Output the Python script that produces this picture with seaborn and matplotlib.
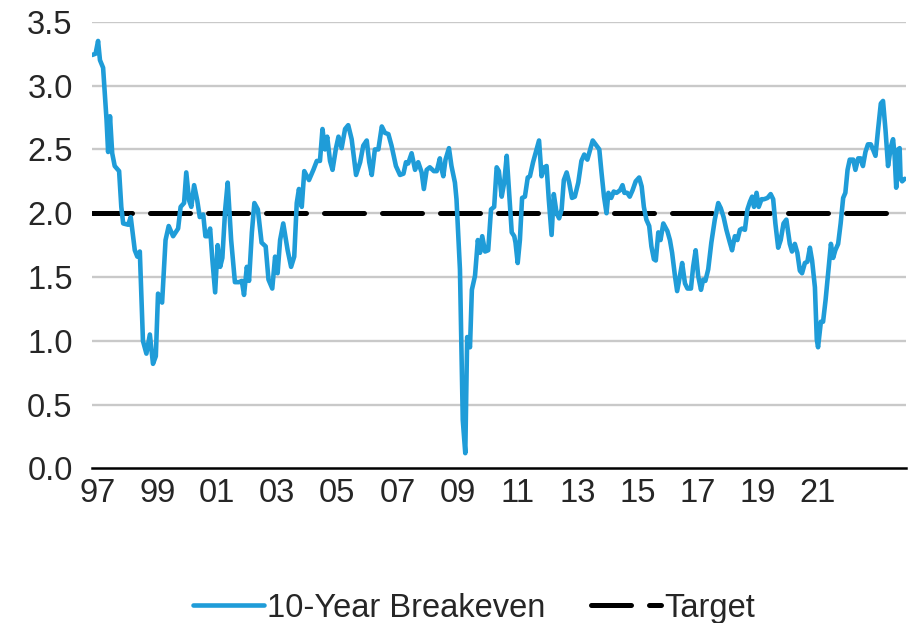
import numpy as np
import pandas as pd
import matplotlib.pyplot as plt
import seaborn as sns

# 10-year breakeven inflation (decimal years)
years = [
    1997.00, 1997.11, 1997.19, 1997.25, 1997.35, 1997.46, 1997.51, 1997.57, 1997.64, 1997.72,
    1997.86, 1997.93, 1997.99, 1998.15, 1998.23, 1998.36, 1998.44, 1998.52, 1998.62, 1998.73,
    1998.84, 1998.94, 1999.03, 1999.10, 1999.23, 1999.34, 1999.44, 1999.58, 1999.74, 1999.82,
    1999.93, 2000.00, 2000.09, 2000.16, 2000.25, 2000.35, 2000.43, 2000.54, 2000.61, 2000.68,
    2000.76, 2000.83, 2000.92, 2001.00, 2001.08, 2001.15, 2001.24, 2001.32, 2001.43, 2001.55,
    2001.68, 2001.77, 2001.84, 2001.93, 2002.00, 2002.09, 2002.17, 2002.28, 2002.40, 2002.53,
    2002.62, 2002.74, 2002.83, 2002.91, 2002.99, 2003.09, 2003.23, 2003.34, 2003.44, 2003.52,
    2003.59, 2003.68, 2003.76, 2003.91, 2004.05, 2004.16, 2004.26, 2004.34, 2004.42, 2004.49,
    2004.58, 2004.66, 2004.77, 2004.85, 2004.95, 2005.06, 2005.16, 2005.27, 2005.41, 2005.54,
    2005.64, 2005.75, 2005.83, 2005.91, 2006.01, 2006.12, 2006.23, 2006.33, 2006.44, 2006.54,
    2006.68, 2006.81, 2006.92, 2007.00, 2007.07, 2007.18, 2007.29, 2007.39, 2007.50, 2007.57,
    2007.66, 2007.76, 2007.89, 2007.98, 2008.08, 2008.11, 2008.19, 2008.26, 2008.37, 2008.45,
    2008.56, 2008.61, 2008.72, 2008.77, 2008.81, 2008.89, 2008.95, 2009.04, 2009.10, 2009.20,
    2009.29, 2009.36, 2009.43, 2009.52, 2009.62, 2009.71, 2009.81, 2009.89, 2009.96, 2010.05,
    2010.13, 2010.21, 2010.28, 2010.37, 2010.45, 2010.49, 2010.56, 2010.63, 2010.70, 2010.79,
    2010.88, 2010.95, 2011.05, 2011.16, 2011.24, 2011.32, 2011.41, 2011.48, 2011.55, 2011.64,
    2011.71, 2011.80, 2011.88, 2011.96, 2012.03, 2012.12, 2012.20, 2012.29, 2012.38, 2012.49,
    2012.59, 2012.68, 2012.78, 2012.86, 2012.95, 2013.07, 2013.16, 2013.23, 2013.31, 2013.39,
    2013.45, 2013.54, 2013.62, 2013.71, 2013.82, 2013.90, 2013.96, 2014.05, 2014.13, 2014.22,
    2014.32, 2014.43, 2014.51, 2014.58, 2014.66, 2014.75, 2014.82, 2014.90, 2014.96, 2015.04,
    2015.11, 2015.20, 2015.33, 2015.41, 2015.48, 2015.57, 2015.64, 2015.73, 2015.80, 2015.89,
    2015.97, 2016.08, 2016.15, 2016.23, 2016.31, 2016.40, 2016.47, 2016.54, 2016.63, 2016.73,
    2016.84, 2016.95, 2017.03, 2017.12, 2017.21, 2017.32, 2017.39, 2017.48, 2017.56, 2017.64,
    2017.71, 2017.80, 2017.88, 2017.96, 2018.03, 2018.09, 2018.17, 2018.24, 2018.33, 2018.41,
    2018.52, 2018.62, 2018.70, 2018.77, 2018.86, 2018.94, 2019.03, 2019.12, 2019.23, 2019.30,
    2019.39, 2019.47, 2019.55, 2019.62, 2019.71, 2019.79, 2019.87, 2019.94, 2020.03, 2020.09,
    2020.13, 2020.22, 2020.29, 2020.37, 2020.45, 2020.54, 2020.61, 2020.68, 2020.77, 2020.85,
    2020.93, 2021.00, 2021.07, 2021.14, 2021.25, 2021.32, 2021.41, 2021.49, 2021.56, 2021.64,
    2021.72, 2021.81, 2021.88, 2021.96, 2022.04, 2022.13, 2022.20, 2022.28, 2022.36, 2022.45,
    2022.52, 2022.57, 2022.62, 2022.68, 2022.73, 2022.76, 2022.81, 2022.89,
]
breakeven = [
    3.24, 3.25, 3.35, 3.20, 3.14, 2.73, 2.48, 2.76, 2.47, 2.37,
    2.33, 2.05, 1.92, 1.91, 1.97, 1.71, 1.66, 1.70, 1.00, 0.90,
    1.05, 0.82, 0.88, 1.37, 1.30, 1.79, 1.90, 1.82, 1.88, 2.05,
    2.08, 2.32, 2.10, 2.05, 2.22, 2.10, 1.97, 1.99, 1.82, 1.82,
    1.88, 1.64, 1.38, 1.75, 1.58, 1.65, 2.03, 2.24, 1.79, 1.46,
    1.46, 1.47, 1.36, 1.58, 1.47, 1.85, 2.08, 2.03, 1.77, 1.74,
    1.48, 1.41, 1.66, 1.53, 1.79, 1.92, 1.71, 1.58, 1.66, 2.08,
    2.19, 2.05, 2.33, 2.26, 2.34, 2.41, 2.41, 2.66, 2.50, 2.60,
    2.41, 2.34, 2.51, 2.60, 2.51, 2.66, 2.69, 2.58, 2.30, 2.40,
    2.53, 2.57, 2.40, 2.30, 2.50, 2.50, 2.68, 2.63, 2.62, 2.53,
    2.37, 2.30, 2.31, 2.40, 2.39, 2.47, 2.34, 2.40, 2.32, 2.19,
    2.34, 2.36, 2.33, 2.33, 2.43, 2.37, 2.29, 2.42, 2.51, 2.37,
    2.24, 2.11, 1.56, 0.90, 0.38, 0.12, 1.03, 0.95, 1.40, 1.51,
    1.79, 1.69, 1.82, 1.70, 1.71, 2.03, 2.05, 2.36, 2.33, 2.13,
    2.24, 2.45, 2.19, 1.85, 1.82, 1.77, 1.61, 1.79, 2.12, 2.13,
    2.28, 2.29, 2.40, 2.50, 2.57, 2.29, 2.36, 2.37, 2.11, 1.83,
    2.15, 2.00, 1.96, 2.03, 2.26, 2.32, 2.24, 2.12, 2.13, 2.24,
    2.41, 2.46, 2.42, 2.49, 2.57, 2.53, 2.50, 2.32, 2.13, 2.00,
    2.16, 2.12, 2.17, 2.16, 2.18, 2.22, 2.16, 2.16, 2.13, 2.18,
    2.25, 2.28, 2.21, 2.05, 1.95, 1.90, 1.74, 1.64, 1.63, 1.85,
    1.79, 1.92, 1.86, 1.79, 1.69, 1.51, 1.39, 1.51, 1.61, 1.45,
    1.41, 1.41, 1.58, 1.71, 1.51, 1.40, 1.48, 1.47, 1.56, 1.77,
    1.95, 2.08, 2.04, 1.97, 1.87, 1.77, 1.71, 1.82, 1.79, 1.87,
    1.88, 1.87, 2.03, 2.09, 2.13, 2.05, 2.16, 2.05, 2.11, 2.11,
    2.12, 2.15, 2.11, 1.92, 1.73, 1.79, 1.92, 1.95, 1.76, 1.70,
    1.76, 1.69, 1.55, 1.53, 1.61, 1.62, 1.73, 1.63, 1.42, 1.01,
    0.95, 1.15, 1.15, 1.32, 1.53, 1.76, 1.65, 1.71, 1.76, 1.92,
    2.12, 2.16, 2.34, 2.42, 2.42, 2.34, 2.43, 2.43, 2.37, 2.48,
    2.54, 2.54, 2.50, 2.45, 2.65, 2.86, 2.88, 2.65, 2.37, 2.52,
    2.58, 2.45, 2.20, 2.50, 2.51, 2.27, 2.25, 2.27,
]

target_years = [1997.0, 2022.7]
target = [2.0, 2.0]

# the source's category axis puts its labels a little off the calendar years
tick_labels = ["97", "99", "01", "03", "05", "07", "09", "11", "13", "15", "17", "19", "21"]
first_tick, last_tick = 1997.16, 2020.12
y_ticks = [0.0, 0.5, 1.0, 1.5, 2.0, 2.5, 3.0, 3.5]

sns.set_style("white")
plt.rcParams['font.family'] = ['Liberation Sans', 'DejaVu Sans']

df = pd.DataFrame({"year": years, "value": breakeven})
tdf = pd.DataFrame({"year": target_years, "value": target})

fig = plt.figure(figsize=(9.12, 6.23), dpi=100)
ax = fig.add_axes([0.101, 0.248, 0.892, 0.717])

for y in y_ticks[1:]:
    ax.axhline(y, color="#c9c9c9", lw=1.7, zorder=0)

sns.lineplot(data=df, x="year", y="value", ax=ax, color="#1F9CD8", lw=3.3,
             label="10-Year Breakeven", zorder=3)
sns.lineplot(data=tdf, x="year", y="value", ax=ax, color="black", lw=3.6,
             label="Target", zorder=2)
ax.lines[-1].set_dashes([8, 3.6])
ax.lines[-1].set_dash_capstyle("round")

ax.set_xlim(1997.0, 2022.92)
ax.set_ylim(0, 3.5)
ax.set_xticks(np.linspace(first_tick, last_tick, len(tick_labels)))
ax.set_xticklabels(tick_labels)
ax.set_yticks(y_ticks)
ax.set_yticklabels([f"{v:.1f}" for v in y_ticks])
ax.tick_params(axis="both", length=0, labelsize=23.5)
ax.tick_params(axis="x", pad=7)
ax.tick_params(axis="y", pad=14)
ax.set_xlabel("")
ax.set_ylabel("")

for side in ["top", "right", "left"]:
    ax.spines[side].set_visible(False)
ax.spines["bottom"].set_color("black")
ax.spines["bottom"].set_linewidth(1.8)

handles, labels = ax.get_legend_handles_labels()
ax.get_legend().remove()
fig.legend(handles, labels, loc="center", bbox_to_anchor=(0.52, 0.024), ncol=2,
           frameon=False, fontsize=23.5, handlelength=2.15, handletextpad=0.1,
           columnspacing=1.4)

fig.savefig("out.png", dpi=100)
